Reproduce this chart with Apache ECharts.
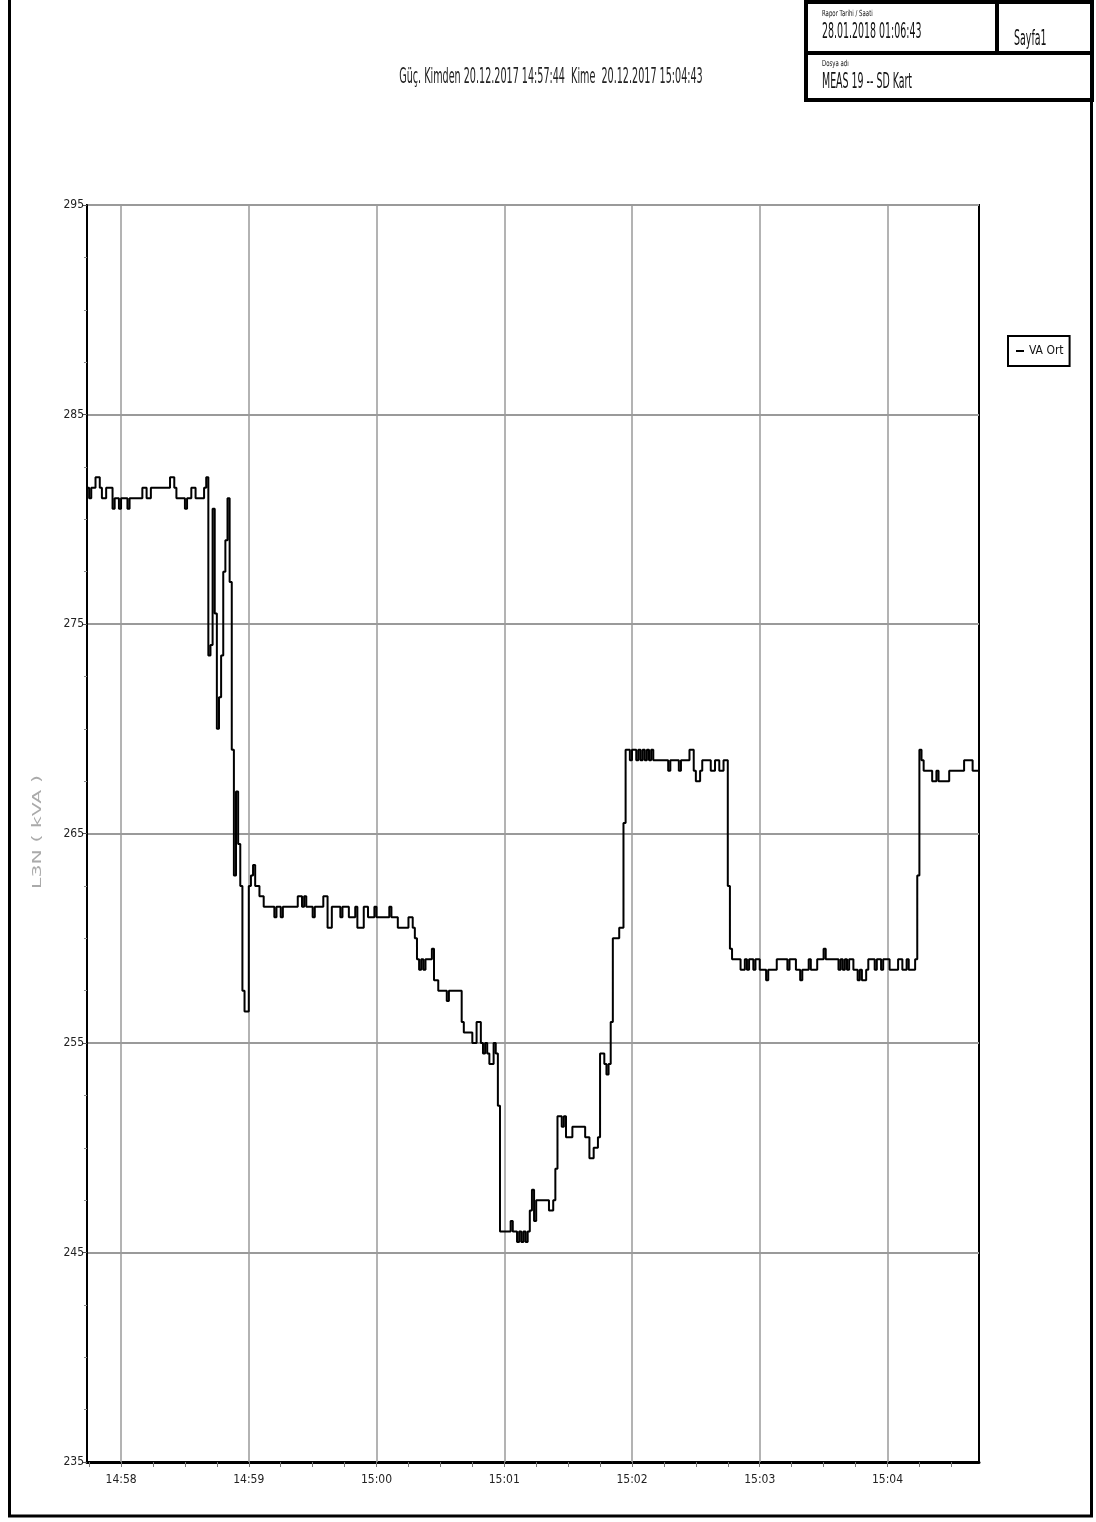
<!DOCTYPE html>
<html><head><meta charset="utf-8">
<script src="https://cdn.jsdelivr.net/npm/echarts@6/dist/echarts.min.js"></script>
<style>html,body{margin:0;padding:0;background:#fff}#c{width:1096px;height:1522px}</style>
</head><body><div id="c"></div>
<script>
const FONT = "'Liberation Sans Narrow','DejaVu Sans Condensed','Roboto Condensed',sans-serif";

// Seconds since 14:57:44 at which the value changes (step line), and the value held from then on
const times = [
  0,1,2,4,6,7,9,12,13,15,16,19,20,26,28,30,39,41,42,46,47,49,51,55,56,
  57,58,59,60,61,62,63,64,65,66,67,68,69,70,71,72,73,74,76,77,78,79,81,83,
  88,89,91,92,99,101,102,103,106,107,111,113,115,119,120,123,126,127,130,132,135,136,142,143,146,
  151,153,154,155,156,157,158,159,162,163,165,169,170,176,177,181,183,185,186,187,188,189,191,192,193,194,
  199,200,202,203,204,205,206,207,208,209,210,211,217,219,220,221,223,224,225,228,234,236,238,240,
  241,243,244,245,246,247,250,252,253,
  255,256,258,259,260,261,262,263,264,265,266,273,274,278,279,283,285,286,288,289,293,295,297,299,
  301,302,303,307,309,310,311,313,314,316,319,320,324,329,330,333,335,336,339,340,343,346,347,
  353,354,355,356,357,358,360,362,363,364,366,367,370,371,373,374,377,381,383,385,386,389,
  390,391,392,393,397,399,400,405,412,416,419
];
const values = [
  281.5,281.0,281.5,282.0,281.5,281.0,281.5,280.5,281.0,280.5,281.0,280.5,281.0,281.5,281.0,281.5,282.0,281.5,281.0,280.5,281.0,281.5,281.0,281.5,282.0,
  273.5,274.0,280.5,275.5,270.0,271.5,273.5,277.5,279.0,281.0,277.0,269.0,263.0,267.0,264.5,262.5,257.5,256.5,262.5,263.0,263.5,262.5,262.0,261.5,
  261.0,261.5,261.0,261.5,262.0,261.5,262.0,261.5,261.0,261.5,262.0,260.5,261.5,261.0,261.5,261.0,261.5,260.5,261.5,261.0,261.5,261.0,261.5,261.0,260.5,
  261.0,260.5,260.0,259.0,258.5,259.0,258.5,259.0,259.5,258.0,257.5,257.0,257.5,256.0,255.5,255.0,256.0,255.0,254.5,255.0,254.5,254.0,255.0,254.5,252.0,246.0,
  246.5,246.0,245.5,246.0,245.5,246.0,245.5,246.0,247.0,248.0,246.5,247.5,247.0,247.5,249.0,251.5,251.0,251.5,250.5,251.0,250.5,249.5,250.0,250.5,
  254.5,254.0,253.5,254.0,256.0,260.0,260.5,265.5,269.0,
  268.5,269.0,268.5,269.0,268.5,269.0,268.5,269.0,268.5,269.0,268.5,268.0,268.5,268.0,268.5,269.0,268.0,267.5,268.0,268.5,268.0,268.5,268.0,268.5,
  262.5,259.5,259.0,258.5,259.0,258.5,259.0,258.5,259.0,258.5,258.0,258.5,259.0,258.5,259.0,258.5,258.0,258.5,259.0,258.5,259.0,259.5,259.0,
  258.5,259.0,258.5,259.0,258.5,259.0,258.5,258.0,258.5,258.0,258.5,259.0,258.5,259.0,258.5,259.0,258.5,259.0,258.5,259.0,258.5,259.0,
  263.0,269.0,268.5,268.0,267.5,268.0,267.5,268.0,268.5,268.0,268.0
];

const xMin = 0, xMax = 419;               // 14:57:44 .. 15:04:43
const xTickSeconds = [1,16,31,46,61,76,91,106,121,136,151,166,181,196,211,226,241,256,271,286,301,316,331,346,361,376,391,406];
const xLabelSeconds = [16,76,136,196,256,316,376];
const xLabels = ['14:58','14:59','15:00','15:01','15:02','15:03','15:04'];
const yMin = 235, yMax = 295, yStep = 10;
const seriesName = 'VA Ort';
const yName = 'L3N ( kVA )';
const titleText = 'Güç. Kimden 20.12.2017 14:57:44  Kime  20.12.2017 15:04:43';
const reportDateLabel = 'Rapor Tarihi / Saati';
const reportDate = '28.01.2018 01:06:43';
const pageName = 'Sayfa1';
const fileLabel = 'Dosya adı';
const fileName = 'MEAS 19 -- SD Kart';

const data = times.map((t, i) => [t, values[i]]);

const chart = echarts.init(document.getElementById('c'), null, {renderer: 'canvas'});
const txt = (text, x, y, size, extra) => Object.assign({
  type: 'text', x: x, y: y, silent: true,
  style: {text: text, fontSize: size, fontFamily: FONT, fill: '#111', align: 'left', verticalAlign: 'top'}
}, extra || {});

chart.setOption({
  animation: false,
  backgroundColor: '#fff',
  grid: {left: 87, top: 205, right: 117, bottom: 60, show: true, borderColor: '#000', borderWidth: 2,
         backgroundColor: 'transparent', containLabel: false, outerBoundsMode: 'none'},
  legend: {
    left: 1008, top: 336, orient: 'horizontal',
    borderColor: '#000', borderWidth: 2, padding: [9, 6, 9, 8],
    icon: 'rect', itemWidth: 8, itemHeight: 2,
    textStyle: {fontFamily: FONT, fontSize: 12, color: '#111'},
    data: [seriesName]
  },
  xAxis: {
    type: 'value', min: xMin, max: xMax,
    axisLine: {show: true, lineStyle: {color: '#000', width: 3}},
    axisTick: {show: true, customValues: xTickSeconds, length: 5, inside: false, lineStyle: {color: '#777', width: 1}},
    axisLabel: {show: true, customValues: xLabelSeconds, margin: 12, fontFamily: FONT, fontSize: 12, color: '#222',
      formatter: v => xLabels[xLabelSeconds.indexOf(Math.round(v))] || ''},
    splitLine: {show: false}
  },
  yAxis: {
    type: 'value', min: yMin, max: yMax, interval: yStep,
    axisLine: {show: true, lineStyle: {color: '#000', width: 2}},
    axisTick: {show: true, length: 5, lineStyle: {color: '#555'}},
    minorTick: {show: true, splitNumber: 4, length: 3, lineStyle: {color: '#888'}},
    axisLabel: {margin: 3, fontFamily: FONT, fontSize: 12, color: '#222'},
    splitLine: {show: true, lineStyle: {color: '#9a9a9a', width: 2}}
  },
  series: [{
    name: seriesName, type: 'line', step: 'end', data: data,
    symbol: 'none', showSymbol: false,
    lineStyle: {color: '#000', width: 2}, itemStyle: {color: '#000'},
    z: 3,
    markLine: {
      z: 1, silent: true, symbol: ['none', 'none'], animation: false,
      label: {show: false},
      lineStyle: {color: '#9a9a9a', width: 1.5, type: 'solid'},
      emphasis: {disabled: true},
      data: xLabelSeconds.map(s => ({xAxis: s}))
    }
  }],
  graphic: [
    {type: 'polyline', silent: true, shape: {points: [[9.5, 0], [9.5, 1516], [1091.5, 1516], [1091.5, 0]]},
     style: {stroke: '#000', lineWidth: 3, fill: null}},
    {type: 'rect', silent: true, shape: {x: 806, y: 2, width: 286, height: 98}, style: {stroke: '#000', lineWidth: 4, fill: null}},
    {type: 'line', silent: true, shape: {x1: 806, y1: 53, x2: 1092, y2: 53}, style: {stroke: '#000', lineWidth: 4}},
    {type: 'line', silent: true, shape: {x1: 997, y1: 2, x2: 997, y2: 53}, style: {stroke: '#000', lineWidth: 4}},
    txt(reportDateLabel, 822, 10, 6, {scaleY: 1.4}),
    txt(reportDate, 822, 22, 10.5, {scaleY: 2.0}),
    txt(pageName, 1014, 29, 10.5, {scaleY: 2.0}),
    txt(fileLabel, 822, 60, 6, {scaleY: 1.4}),
    txt(fileName, 822, 72, 10.5, {scaleY: 2.0}),
    {type: 'text', x: 551, y: 67, scaleY: 1.9, silent: true,
     style: {text: titleText, fontSize: 10.7, fontFamily: FONT, fill: '#222', align: 'center', verticalAlign: 'top'}},
    {type: 'text', x: 38, y: 832, rotation: Math.PI / 2, scaleX: 1.9, silent: true,
     style: {text: yName, fontSize: 12, fontFamily: FONT, fill: '#aaa', align: 'center', verticalAlign: 'middle'}}
  ]
});
</script>
</body></html>
